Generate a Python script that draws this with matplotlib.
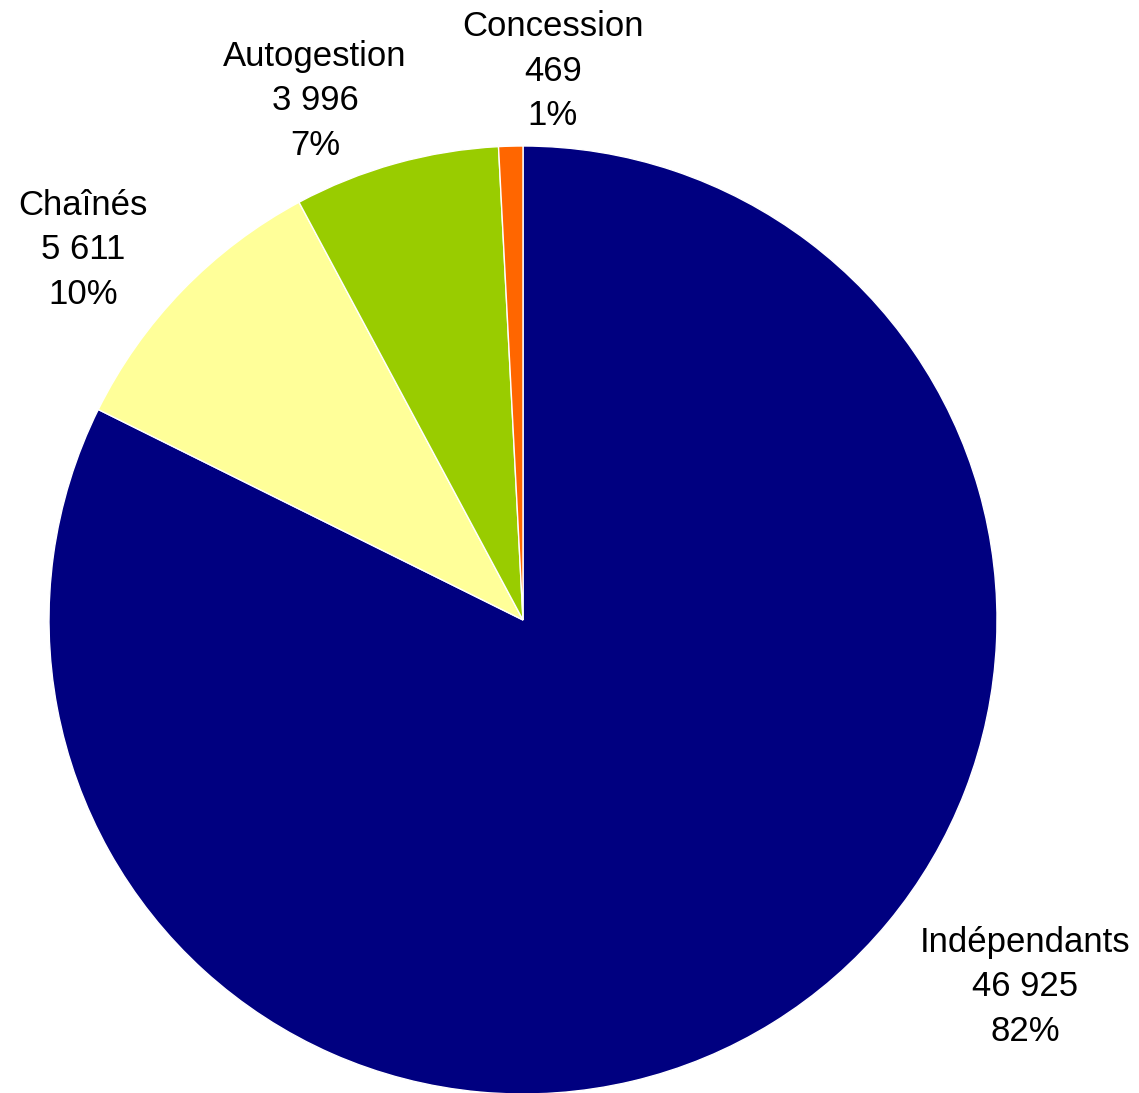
import matplotlib.pyplot as plt

plt.rcParams['font.family'] = ['Liberation Sans', 'DejaVu Sans']

categories = ['Indépendants', 'Chaînés', 'Autogestion', 'Concession']
values = [46925, 5611, 3996, 469]
colors = ['#000080', '#FFFF99', '#99CC00', '#FF6600']
# label anchor positions (data units, pie radius = 1)
label_pos = [(1.059, -0.774), (-0.928, 0.781), (-0.439, 1.095), (0.063, 1.158)]

total = sum(values)

fig = plt.figure(figsize=(11.39, 10.93), dpi=100)
ax = fig.add_axes([49 / 1139, -1 / 1093, 948 / 1139, 948 / 1093])
ax.pie(values, colors=colors, startangle=90, counterclock=False,
       radius=1, wedgeprops=dict(edgecolor='white', linewidth=1))
ax.set_xlim(-1, 1)
ax.set_ylim(-1, 1)
ax.set_aspect('equal')
ax.axis('off')

for name, v, (x, y) in zip(categories, values, label_pos):
    num = f'{v:,}'.replace(',', ' ')
    pct = f'{round(100 * v / total):.0f}%'
    ax.text(x, y, f'{name}\n{num}\n{pct}', ha='center', va='center',
            fontsize=25, linespacing=1.45, clip_on=False)

fig.savefig('out.png', dpi=100)
